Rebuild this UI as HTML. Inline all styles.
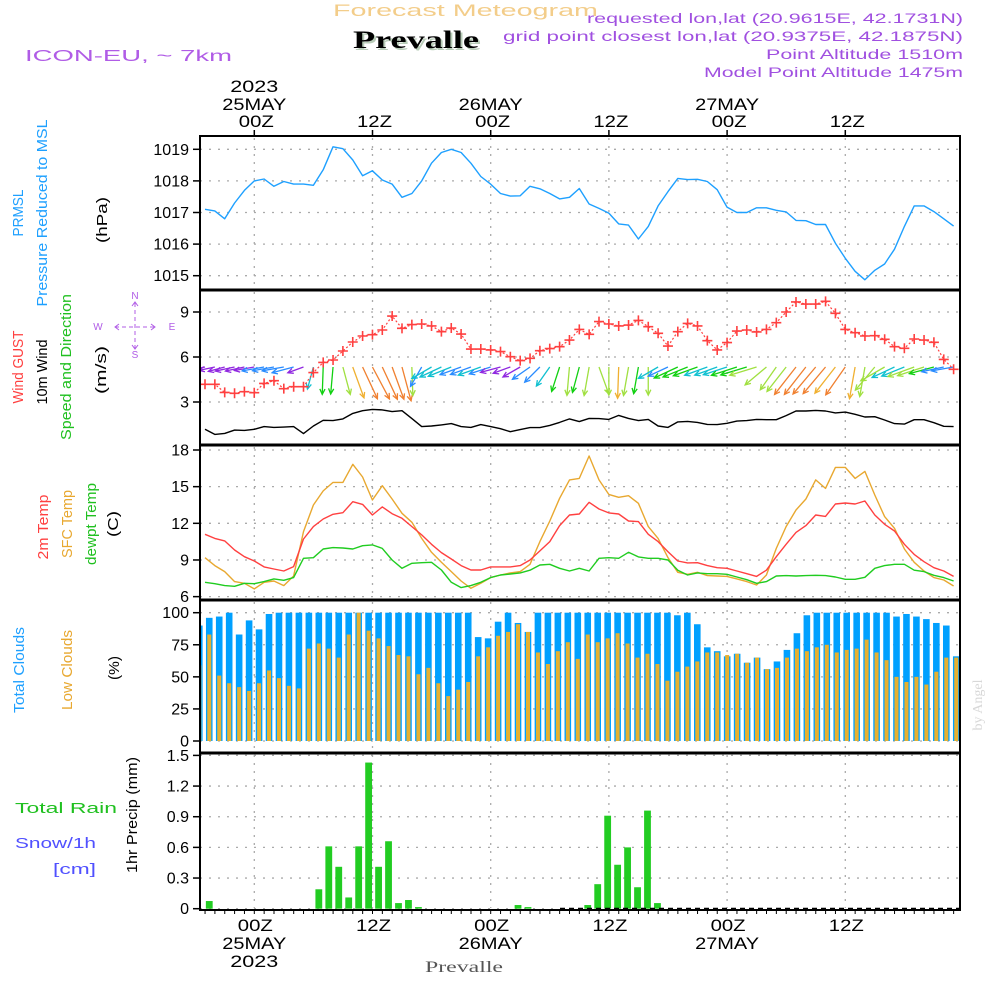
<!DOCTYPE html>
<html><head><meta charset="utf-8"><title>Forecast Meteogram Prevalle</title>
<style>
html,body{margin:0;padding:0;background:#fff;}
svg{display:block;font-family:"Liberation Sans",sans-serif;}
</style></head>
<body>
<svg id="chart" width="1000" height="1000" viewBox="0 0 1000 1000" xmlns="http://www.w3.org/2000/svg">
<defs>
<clipPath id="c1"><rect x="200" y="136" width="760" height="154"/></clipPath>
<clipPath id="c2"><rect x="200" y="290" width="760" height="155"/></clipPath>
<clipPath id="c3"><rect x="200" y="445" width="760" height="155"/></clipPath>
<clipPath id="c4"><rect x="200" y="600" width="760" height="153"/></clipPath>
<clipPath id="c5"><rect x="200" y="753" width="760" height="157"/></clipPath>
</defs>
<rect width="1000" height="1000" fill="#fff"/>
<!-- header -->
<text x="333" y="16" font-size="17" fill="#f3cd8a" textLength="265" lengthAdjust="spacingAndGlyphs">Forecast Meteogram</text>
<text x="355" y="50" font-family="Liberation Serif,serif" font-weight="bold" font-size="25" fill="#b8ccb8" textLength="126" lengthAdjust="spacingAndGlyphs">Prevalle</text>
<text x="353" y="48" font-family="Liberation Serif,serif" font-weight="bold" font-size="25" fill="#000" textLength="126" lengthAdjust="spacingAndGlyphs">Prevalle</text>
<text x="25" y="61" font-size="16" fill="#b05ce6" textLength="207" lengthAdjust="spacingAndGlyphs">ICON-EU, ~ 7km</text>
<text x="587" y="23" font-size="14" fill="#a050e0" textLength="376" lengthAdjust="spacingAndGlyphs">requested lon,lat (20.9615E, 42.1731N)</text>
<text x="503" y="41" font-size="14" fill="#a050e0" textLength="460" lengthAdjust="spacingAndGlyphs">grid point closest lon,lat (20.9375E, 42.1875N)</text>
<text x="766" y="59" font-size="14" fill="#a050e0" textLength="197" lengthAdjust="spacingAndGlyphs">Point Altitude 1510m</text>
<text x="704" y="77" font-size="14" fill="#a050e0" textLength="259" lengthAdjust="spacingAndGlyphs">Model Point Altitude 1475m</text>

<!-- left panel labels -->
<g font-size="15">
<text transform="translate(23,213) rotate(-90)" text-anchor="middle" fill="#1ea0ff" textLength="47" lengthAdjust="spacingAndGlyphs">PRMSL</text>
<text transform="translate(47,213) rotate(-90)" text-anchor="middle" fill="#1ea0ff" textLength="187" lengthAdjust="spacingAndGlyphs">Pressure Reduced to MSL</text>
<text transform="translate(107,220) rotate(-90)" text-anchor="middle" fill="#000" textLength="46" lengthAdjust="spacingAndGlyphs">(hPa)</text>
<text transform="translate(23,367) rotate(-90)" text-anchor="middle" fill="#ff4040" textLength="73" lengthAdjust="spacingAndGlyphs">Wind GUST</text>
<text transform="translate(47,372) rotate(-90)" text-anchor="middle" fill="#000" textLength="65" lengthAdjust="spacingAndGlyphs">10m Wind</text>
<text transform="translate(71,367) rotate(-90)" text-anchor="middle" fill="#20c020" textLength="146" lengthAdjust="spacingAndGlyphs">Speed and Direction</text>
<text transform="translate(106,370) rotate(-90)" text-anchor="middle" fill="#000" textLength="48" lengthAdjust="spacingAndGlyphs">(m/s)</text>
<text transform="translate(48,527) rotate(-90)" text-anchor="middle" fill="#ff4040" textLength="65" lengthAdjust="spacingAndGlyphs">2m Temp</text>
<text transform="translate(72,524) rotate(-90)" text-anchor="middle" fill="#e8a830" textLength="68" lengthAdjust="spacingAndGlyphs">SFC Temp</text>
<text transform="translate(96,524) rotate(-90)" text-anchor="middle" fill="#20c020" textLength="82" lengthAdjust="spacingAndGlyphs">dewpt Temp</text>
<text transform="translate(118,524) rotate(-90)" text-anchor="middle" fill="#000" textLength="26" lengthAdjust="spacingAndGlyphs">(C)</text>
<text transform="translate(24,670) rotate(-90)" text-anchor="middle" fill="#1ea0ff" textLength="86" lengthAdjust="spacingAndGlyphs">Total Clouds</text>
<text transform="translate(72,670) rotate(-90)" text-anchor="middle" fill="#e8a830" textLength="80" lengthAdjust="spacingAndGlyphs">Low Clouds</text>
<text transform="translate(119,668) rotate(-90)" text-anchor="middle" fill="#000" textLength="24" lengthAdjust="spacingAndGlyphs">(%)</text>
<text transform="translate(137,815) rotate(-90)" text-anchor="middle" fill="#000" textLength="116" lengthAdjust="spacingAndGlyphs">1hr Precip (mm)</text>
</g>
<text x="15" y="813" font-size="15" fill="#20c020" textLength="102" lengthAdjust="spacingAndGlyphs">Total   Rain</text>
<text x="15" y="848" font-size="15" fill="#5050ff" textLength="81" lengthAdjust="spacingAndGlyphs">Snow/1h</text>
<text x="53" y="874" font-size="15" fill="#5050ff" textLength="43" lengthAdjust="spacingAndGlyphs">[cm]</text>
<text transform="translate(982,705) rotate(-90)" text-anchor="middle" font-family="Liberation Serif,serif" font-size="14" fill="#d8d8d8">by Angel</text>

<!-- compass -->
<g fill="#b05ce6" stroke="#b05ce6" font-size="10">
<text x="98" y="330" stroke="none" text-anchor="middle">W</text>
<text x="172" y="330" stroke="none" text-anchor="middle">E</text>
<text x="135" y="299" stroke="none" text-anchor="middle">N</text>
<text x="135" y="358" stroke="none" text-anchor="middle">S</text>
<line x1="115" y1="327" x2="155" y2="327" stroke-dasharray="4,3" stroke-width="1"/>
<line x1="135" y1="303" x2="135" y2="349" stroke-dasharray="4,3" stroke-width="1"/>
<polyline points="119,324 115,327 119,330" fill="none"/>
<polyline points="151,324 155,327 151,330" fill="none"/>
<polyline points="132,306 135,302 138,306" fill="none"/>
<polyline points="132,345 135,349 138,345" fill="none"/>
</g>

<g id="grid"></g>
<g id="data"></g>
<g id="frames" fill="none" stroke="#000" stroke-width="2">
<rect x="200" y="136" width="760" height="774"/>
<line x1="200" y1="290" x2="960" y2="290" stroke-width="3"/>
<line x1="200" y1="445" x2="960" y2="445" stroke-width="3"/>
<line x1="200" y1="600" x2="960" y2="600" stroke-width="3"/>
<line x1="200" y1="753" x2="960" y2="753" stroke-width="3"/>
</g>
<g id="axes"></g>
<text x="425" y="972" font-family="Liberation Serif,serif" font-size="16" fill="#555" textLength="78" lengthAdjust="spacingAndGlyphs">Prevalle</text>
</svg>
<script>
const pressure=[1017.1,1017.05,1016.8,1017.3,1017.7,1018.0,1018.06,1017.83,1017.98,1017.9,1017.9,1017.86,1018.35,1019.08,1019.02,1018.66,1018.16,1018.32,1018.03,1017.9,1017.48,1017.6,1018.0,1018.56,1018.9,1019.0,1018.9,1018.56,1018.14,1017.9,1017.6,1017.52,1017.53,1017.83,1017.75,1017.6,1017.43,1017.48,1017.76,1017.27,1017.13,1016.98,1016.64,1016.6,1016.16,1016.56,1017.21,1017.66,1018.08,1018.04,1018.05,1017.98,1017.72,1017.17,1017.0,1017.0,1017.15,1017.15,1017.07,1017.02,1016.75,1016.74,1016.62,1016.62,1016.03,1015.55,1015.14,1014.87,1015.17,1015.37,1015.84,1016.56,1017.21,1017.21,1017.03,1016.8,1016.57];
const gust=[4.18,4.18,3.64,3.58,3.69,3.62,4.24,4.42,3.89,4.02,4.02,4.96,5.64,5.8,6.4,7.0,7.4,7.49,7.8,8.73,7.91,8.16,8.2,8.07,7.69,7.93,7.53,6.53,6.53,6.47,6.36,6.02,5.76,5.91,6.42,6.56,6.69,7.13,7.84,7.51,8.36,8.2,8.07,8.13,8.44,8.02,7.58,6.73,7.69,8.24,8.07,7.09,6.47,6.96,7.73,7.8,7.67,7.84,8.29,9.0,9.67,9.53,9.53,9.71,8.91,7.84,7.62,7.4,7.42,7.18,6.69,6.58,7.2,7.13,6.98,5.84,5.18];
const windSpeed=[1.18,0.84,0.91,1.13,1.11,1.18,1.36,1.31,1.33,1.36,0.89,1.4,1.78,1.76,1.87,2.24,2.42,2.51,2.47,2.36,2.42,1.89,1.36,1.4,1.47,1.56,1.36,1.31,1.49,1.36,1.22,1.02,1.16,1.29,1.29,1.44,1.64,1.87,1.69,1.91,1.89,1.84,2.11,1.91,1.76,1.84,1.4,1.31,1.67,1.71,1.64,1.51,1.49,1.58,1.73,1.76,1.84,1.82,1.82,2.09,2.4,2.4,2.44,2.4,2.27,2.33,2.18,2.0,2.02,1.8,1.56,1.53,1.82,1.82,1.62,1.38,1.36];
const windDir=[168,168,165,168,168,170,170,170,170,165,160,105,92,95,75,70,65,62,65,70,75,88,120,150,155,158,160,160,160,162,165,160,150,145,135,125,108,95,105,100,70,90,92,100,100,90,150,155,155,158,160,160,160,162,162,163,163,140,125,128,128,128,130,130,128,125,100,100,130,150,155,158,160,162,165,168,170];
const temp2m=[11.1,10.77,10.56,9.82,9.27,8.92,8.43,8.26,8.1,8.46,10.72,11.73,12.35,12.74,12.87,13.77,13.55,12.68,13.34,12.79,12.41,11.73,11.05,10.28,9.6,9.08,8.54,8.18,8.18,8.43,8.43,8.43,8.54,9.0,9.74,10.5,11.81,12.68,12.76,13.72,13.17,12.85,12.76,12.19,12.14,11.1,10.5,9.68,8.92,8.76,8.78,8.54,8.37,8.32,8.1,7.88,7.66,8.16,9.27,10.28,11.26,11.81,12.68,12.57,13.58,13.66,13.58,13.83,12.68,11.92,11.37,10.28,9.46,8.86,8.37,8.1,7.66];
const tempSfc=[9.19,8.54,8.05,7.23,7.09,6.63,7.17,7.28,6.9,7.69,11.32,13.5,14.65,15.35,15.35,16.83,15.79,13.91,15.08,13.99,12.82,12.08,10.77,9.63,8.81,8.05,7.28,6.68,7.09,7.56,7.77,7.94,8.05,8.65,10.5,12.19,14.05,15.55,15.68,17.51,15.55,14.37,14.13,14.26,13.64,11.73,10.77,9.19,7.99,7.83,7.99,7.72,7.69,7.66,7.45,7.23,6.95,7.77,9.95,11.73,13.09,13.99,15.55,14.86,16.58,16.58,15.68,16.25,14.32,12.55,11.59,9.9,8.81,8.1,7.56,7.36,6.87];
const dewpt=[7.17,7.06,6.9,6.85,7.09,7.06,7.23,7.45,7.34,7.56,9.14,9.19,9.9,10.01,9.98,9.9,10.17,10.23,9.95,9.0,8.32,8.73,8.78,8.81,8.18,7.17,6.74,6.9,7.17,7.56,7.77,7.85,7.94,8.16,8.59,8.65,8.32,8.1,8.32,8.1,9.14,9.19,9.14,9.63,9.25,9.14,9.14,9.0,8.16,7.77,7.94,7.88,7.88,7.83,7.61,7.39,7.09,7.23,7.69,7.72,7.69,7.72,7.75,7.72,7.61,7.42,7.42,7.58,8.32,8.54,8.65,8.65,8.16,8.05,7.75,7.56,7.28];
const totalClouds=[90,96,97,100,83,94,87,99,100,100,100,100,100,100,100,100,100,100,100,100,100,100,100,100,100,100,100,100,81,80,93,100,92,85,100,100,100,100,100,100,100,100,100,100,100,100,100,100,98,100,91,73,70,66,68,61,65,56,62,71,84,98,100,100,100,100,100,100,100,100,97,99,97,95,92,90,66];
const lowClouds=[59,83,51,45,42,39,45,55,49,43,41,72,76,72,65,83,100,86,80,74,67,66,52,57,45,35,40,46,66,73,82,85,91,85,69,60,70,77,64,83,77,80,84,76,65,68,60,47,54,58,62,69,69,67,68,61,65,56,57,65,72,70,73,75,69,71,72,79,69,63,50,46,50,44,54,65,65];
const precip=[0,0.075,0,0,0,0,0,0,0,0,0,0,0.19,0.61,0.41,0.11,0.61,1.43,0.41,0.66,0.055,0.085,0.016,0,0,0,0,0,0,0,0,0,0.036,0.016,0,0,0,0,0,0.036,0.24,0.91,0.43,0.6,0.21,0.96,0.055,0,0,0,0,0,0,0,0,0,0,0,0,0,0,0,0,0,0,0,0,0,0,0,0,0,0,0,0,0,0];
const pressTicks=[1019,1018,1017,1016,1015];
const windTicks=[9,6,3];
const tempTicks=[18,15,12,9,6];
const cloudTicks=[100,75,50,25,0];
const precipTicks=[1.5,1.2,0.9,0.6,0.3,0];
const precipTickLabels=["1.5","1.2","0.9","0.6","0.3","0"];
const timeHours=[0,12,24,36,48,60];
const timeHourLabels=["00Z","12Z","00Z","12Z","00Z","12Z"];
const dateLabels=["25MAY","","26MAY","","27MAY",""];

const NS="http://www.w3.org/2000/svg";
const xL=i=>205+9.85*i;
const xB=i=>199.3+9.96*i;
const xT=h=>254.3+9.85*h;
const yP=v=>149.3+(1019-v)*31.6;
const yW=v=>312+(9-v)*15;
const yT=v=>450+(18-v)*12.22;
const yC=v=>741-v*1.283;
const yR=v=>908.7-v*102.2;
const panels=[[136,290],[290,445],[445,600],[600,753],[753,910]];

function mk(tag,attrs,parent){const e=document.createElementNS(NS,tag);for(const k in attrs)e.setAttribute(k,attrs[k]);parent.appendChild(e);return e;}
const grid=document.getElementById('grid');
const dataG=document.getElementById('data');
const axes=document.getElementById('axes');

function yAxis(ticks,labels,scale,name){
  ticks.forEach((t,k)=>{
    const y=scale(t);
    const gl=mk('line',{x1:200,x2:960,y1:y,y2:y,stroke:'#aaa','stroke-width':1.3,'stroke-dasharray':'2,7'},grid);
    
    
    const tk=mk('line',{x1:193,x2:200,y1:y,y2:y,stroke:'#000','stroke-width':1.5},axes);
    
    
    const tx=mk('text',{x:189,y:y+5.5,'text-anchor':'end','font-size':16,fill:'#000'},axes);
    tx.textContent=labels[k];
    
    
  });
}
yAxis(pressTicks,pressTicks,yP,'pressure-axis');
yAxis(windTicks,windTicks,yW,'wind-axis');
yAxis(tempTicks,tempTicks,yT,'temp-axis');
yAxis(cloudTicks,cloudTicks,yC,'cloud-axis');
yAxis(precipTicks,precipTickLabels,yR,'precip-axis');

timeHours.forEach((h,k)=>{
  const x=xT(h);
  panels.forEach(p=>{
    const vl=mk('line',{x1:x,x2:x,y1:p[0]+2,y2:p[1]-2,stroke:'#aaa','stroke-width':1.3,'stroke-dasharray':'2,6'},grid);
    
    
  });
  const tt=mk('line',{x1:x,x2:x,y1:130,y2:136,stroke:'#000','stroke-width':1.5},axes);
  
  
  const tl=mk('text',{x:x+2,y:127,'text-anchor':'middle','font-size':17,fill:'#000',textLength:35,lengthAdjust:'spacingAndGlyphs'},axes);
  tl.textContent=timeHourLabels[k];
  
  
  const bl=mk('text',{x:x+1,y:931,'text-anchor':'middle','font-size':17,fill:'#000',textLength:35,lengthAdjust:'spacingAndGlyphs'},axes);
  bl.textContent=timeHourLabels[k];
  
  
  if(dateLabels[k]){
    const td=mk('text',{x:x,y:110,'text-anchor':'middle','font-size':17,fill:'#000',textLength:64,lengthAdjust:'spacingAndGlyphs'},axes);
    td.textContent=dateLabels[k];
    
    
    const bd=mk('text',{x:x,y:949,'text-anchor':'middle','font-size':17,fill:'#000',textLength:64,lengthAdjust:'spacingAndGlyphs'},axes);
    bd.textContent=dateLabels[k];
    
    
  }
});
const ty=mk('text',{x:xT(0),y:92,'text-anchor':'middle','font-size':17,fill:'#000',textLength:48,lengthAdjust:'spacingAndGlyphs'},axes);
ty.textContent='2023';


const by=mk('text',{x:xT(0),y:967,'text-anchor':'middle','font-size':17,fill:'#000',textLength:48,lengthAdjust:'spacingAndGlyphs'},axes);
by.textContent='2023';


for(let h=-5;h<=71;h++){
  const mt=mk('line',{x1:xT(h),x2:xT(h),y1:910,y2:914,stroke:'#000','stroke-width':1},axes);
  
  
}

function line(vals,scale,color,clip,name,w,dash){
  const pts=vals.map((v,i)=>xL(i).toFixed(1)+','+scale(v).toFixed(1)).join(' ');
  const a={points:pts,fill:'none',stroke:color,'stroke-width':w||1.4,'clip-path':'url(#'+clip+')','stroke-linejoin':'round'};
  if(dash)a['stroke-dasharray']=dash;
  const pl=mk('polyline',a,dataG);
  
  
}
line(pressure,yP,'#1ea0ff','c1','pressure-line');

totalClouds.forEach((v,i)=>{
  const r=mk('rect',{x:xB(i)-3.3,y:yC(v),width:6.6,height:yC(0)-yC(v),fill:'#00a0ff','clip-path':'url(#c4)'},dataG);
  
  
});
lowClouds.forEach((v,i)=>{
  const r=mk('rect',{x:xB(i)-2,y:yC(v),width:4,height:yC(0)-yC(v),fill:'#e6b030','clip-path':'url(#c4)'},dataG);
  
  
});
precip.forEach((v,i)=>{
  if(v<=0)return;
  const r=mk('rect',{x:xB(i)-3.4,y:yR(v),width:6.8,height:yR(0)-yR(v),fill:'#22cc22','clip-path':'url(#c5)'},dataG);
  
  
});
const zl=mk('line',{x1:560,x2:960,y1:908.5,y2:908.5,stroke:'#000','stroke-width':1.5,'stroke-dasharray':'5,4'},dataG);



line(tempSfc,yT,'#e8a830','c3','sfc-temp-line');
line(temp2m,yT,'#ff4040','c3','temp2m-line');
line(dewpt,yT,'#20cc20','c3','dewpt-line');

line(windSpeed,yW,'#000','c2','wind-speed-line');
function spColor(s){
  if(s<1.25)return '#9028e0';
  if(s<1.4)return '#2a8cff';
  if(s<1.6)return '#10c0d0';
  if(s<1.8)return '#10d010';
  if(s<2.1)return '#a0e040';
  if(s<2.3)return '#f0b030';
  return '#f08030';
}
windDir.forEach((d,i)=>{
  const s=windSpeed[i];
  const L=6+12*s;
  const a=d*Math.PI/180;
  const x0=xL(i),y0=367;
  const x1=x0+L*Math.cos(a),y1=y0+L*Math.sin(a);
  const c=spColor(s);
  const h1=a+Math.PI-0.45,h2=a+Math.PI+0.45;
  const g=mk('g',{stroke:c,'stroke-width':1.3,fill:'none','clip-path':'url(#c2)'},dataG);
  
  
  mk('line',{x1:x0,y1:y0,x2:x1,y2:y1},g);
  mk('polyline',{points:(x1+6*Math.cos(h1))+','+(y1+6*Math.sin(h1))+' '+x1+','+y1+' '+(x1+6*Math.cos(h2))+','+(y1+6*Math.sin(h2))},g);
});
line(gust,yW,'#ff4040','c2','gust-line',1.2,'2,2');
gust.forEach((v,i)=>{
  const x=xL(i),y=yW(v);
  const p=mk('path',{d:'M'+(x-5)+' '+y+'H'+(x+5)+'M'+x+' '+(y-5)+'V'+(y+5),stroke:'#ff4040','stroke-width':1.6,'clip-path':'url(#c2)'},dataG);
  
  
});
</script>
</body></html>
